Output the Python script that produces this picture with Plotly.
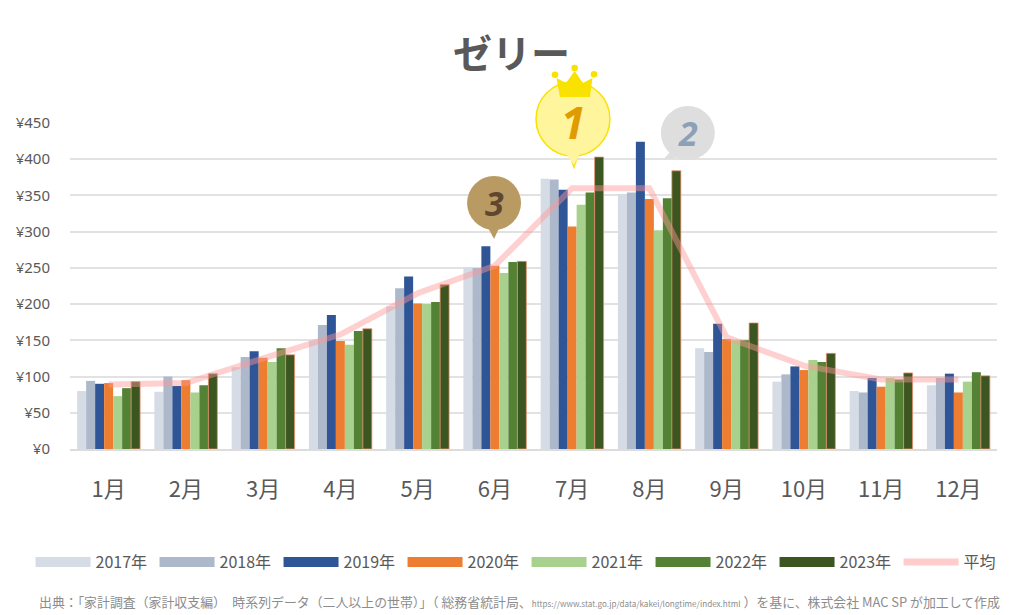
import plotly.graph_objects as go

months = ["1月","2月","3月","4月","5月","6月","7月","8月","9月","10月","11月","12月"]
y2017 = [80,79,113,150,197,251,373,352,139,93,80,88]
y2018 = [94,100,127,171,222,250,372,354,134,103,78,98]
y2019 = [90,87,135,185,238,280,358,424,173,114,98,104]
y2020 = [91,95,126,149,201,253,307,345,152,109,86,78]
y2021 = [73,78,120,144,200,243,337,302,150,123,98,93]
y2022 = [84,88,139,163,203,258,354,346,150,120,96,106]
y2023 = [93,104,130,166,227,259,403,384,174,132,105,101]
avg = [89,91,125,158,215,253,360,360,154,115,96,96]
tick_vals = [0,50,100,150,200,250,300,350,400,450]
tick_text = ["¥"+str(v) for v in tick_vals]

series = [("2017年",y2017,"#D6DCE5"),("2018年",y2018,"#ADB9CA"),("2019年",y2019,"#2F5597"),
          ("2020年",y2020,"#ED7D31"),("2021年",y2021,"#A9D18E"),("2022年",y2022,"#548235"),
          ("2023年",y2023,"#3B5620")]

W,H = 1024,615
L,R,T,B = 69.5,997.5,123,449
FONT = "Noto Sans CJK JP"
GRAY = "#595959"
px = lambda x:(x-L)/(R-L)
py = lambda y:(B-y)/(B-T)

fig = go.Figure()
for name,vals,col in series:
    outline = "rgba(240,140,110,0.75)" if name=="2023年" else "rgba(255,255,255,0)"
    fig.add_trace(go.Bar(x=months,y=vals,name=name,showlegend=False,
                         marker=dict(color=col,line=dict(color=outline,width=1))))
fig.add_trace(go.Scatter(x=months,y=avg,mode="lines",name="平均",showlegend=False,
                         line=dict(color="rgba(255,150,150,0.45)",width=6)))
for name,vals,col in series:
    fig.add_trace(go.Scatter(x=[None],y=[None],mode="lines",name=name,line=dict(color=col,width=10)))
fig.add_trace(go.Scatter(x=[None],y=[None],mode="lines",name="平均",line=dict(color="#FFCCCC",width=7)))

def circle(cx,cy,r,fill,line=None,lw=0):
    return dict(type="circle",xref="paper",yref="paper",x0=px(cx-r),x1=px(cx+r),y0=py(cy+r),y1=py(cy-r),
                fillcolor=fill,line=dict(color=line or fill,width=lw),layer="above")
def poly(pts,fill,line=None,lw=0):
    d="M "+" L ".join(f"{px(a):.5f},{py(b):.5f}" for a,b in pts)+" Z"
    return dict(type="path",xref="paper",yref="paper",path=d,fillcolor=fill,
                line=dict(color=line or fill,width=lw),layer="above")
YEL="#F9E100"
shapes=[
 poly([(568,150),(580,150),(574,167)],"#FFF59D",YEL,1.5),
 circle(573,119,37,"#FFF59D",YEL,1.5),
 poly([(566,154),(580,154),(574,165)],"#FFF59D"),
 poly([(560,97),(590,97),(592.5,78),(583,83),(574.7,71),(566,83),(556.5,78)],YEL),
 circle(555,74.7,3.3,YEL),circle(574.7,68,3.3,YEL),circle(594,74.3,3.3,YEL),
 poly([(672,150),(682,157),(664,159)],"#DEDEDE"),
 circle(688,133,27,"#DEDEDE"),
 poly([(487,226),(500,226),(494,239)],"#B99A62"),
 circle(494,203,27,"#B99A62"),
]
def badge(cx,cy,t,col,size):
    return dict(x=px(cx),y=py(cy),xref="paper",yref="paper",showarrow=False,xanchor="center",yanchor="middle",
                text=f"<b><i>{t}</i></b>",font=dict(family="Open Sans",size=size,color=col))
source = ("出典：「家計調査（家計収支編）　時系列データ（二人以上の世帯）」（ 総務省統計局、"
          "<span style='font-size:8.1px'>https://www.stat.go.jp/data/kakei/longtime/index.html</span>"
          " ）を基に、株式会社 MAC SP が加工して作成")
annotations=[
 badge(573,122,"1","#E09B00",44),
 badge(688,133,"2","#8CA0B8",34),
 badge(494,203,"3","#5E4630",34),
 dict(x=px(519.5),y=py(601),xref="paper",yref="paper",showarrow=False,xanchor="center",yanchor="middle",text=source,
      font=dict(family=FONT,size=12.9,color="#8C8C8C")),
]

fig.update_layout(
    width=W,height=H,margin=dict(l=L,r=W-R,t=T,b=H-B,autoexpand=False),
    paper_bgcolor="white",plot_bgcolor="white",
    barmode="group",bargap=0.185,bargroupgap=0,
    font=dict(family=FONT,color=GRAY),
    title=dict(text="<b>ゼリー</b>",x=511.5/W,xanchor="center",y=1-54/H,yanchor="middle",
               font=dict(family=FONT,size=39,color=GRAY)),
    xaxis=dict(categoryorder="array",categoryarray=months,showgrid=False,showline=True,linecolor="#DCDCDC",linewidth=2,
               ticks="",ticklabelstandoff=20,tickfont=dict(size=22,color=GRAY,family=FONT),zeroline=False),
    yaxis=dict(range=[0,450],tickvals=tick_vals,ticktext=tick_text,gridcolor="#E2E2E2",gridwidth=2,
               showline=False,zeroline=False,ticks="",ticklabelstandoff=19,
               tickfont=dict(size=15,color=GRAY,family="Noto Sans")),
    legend=dict(orientation="h",x=px(30),y=py(562),xanchor="left",yanchor="middle",
                itemwidth=55,entrywidth=54,entrywidthmode="pixels",tracegroupgap=0,
                font=dict(size=16,color=GRAY,family=FONT),bgcolor="rgba(0,0,0,0)",
                itemclick=False,itemdoubleclick=False),
    shapes=shapes,annotations=annotations,showlegend=True,
)
fig.write_html("out.html",config=dict(displayModeBar=False),
               post_script="document.body.style.margin='0';document.documentElement.style.overflow='hidden';")
